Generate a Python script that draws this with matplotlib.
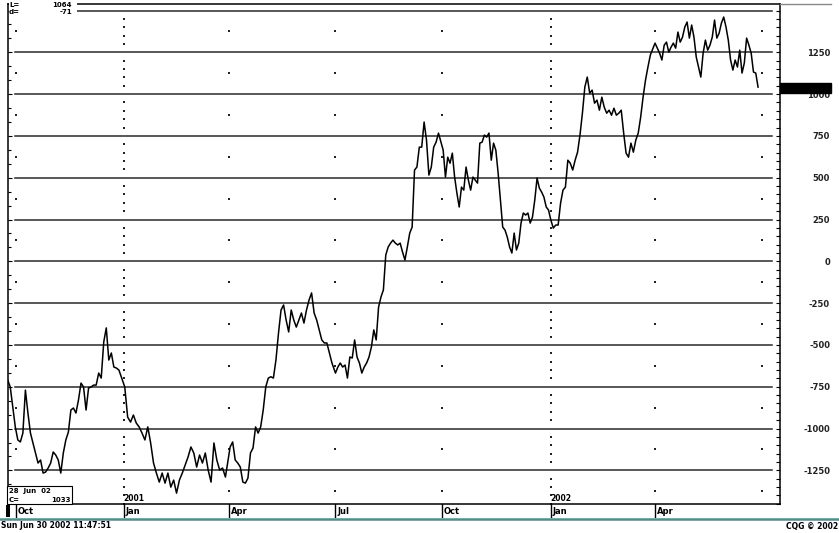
import numpy as np
import pandas as pd
import matplotlib
matplotlib.use('Agg')
import matplotlib.pyplot as plt
import matplotlib.transforms as mtransforms
from matplotlib.patches import Rectangle
from matplotlib.lines import Line2D
from matplotlib.ticker import MultipleLocator, FixedLocator

W, H = 839, 533

# --- spread values, one list per quarter ---
q4_2000 = [-710, -751, -871, -990, -1068, -1080, -1027, -770, -907, -1027,
           -1086, -1146, -1206, -1188, -1266, -1260, -1236, -1206, -1140, -1158,
           -1188, -1266, -1146, -1068, -1021, -889, -877, -907, -829, -728,
           -751, -889, -757, -751, -740, -740, -668, -698, -482, -398,
           -590, -548, -632, -638, -650]
q1_2001 = [-751, -931, -961, -919, -967, -990, -1027, -1068, -990, -1086,
           -1206, -1266, -1320, -1266, -1326, -1266, -1350, -1308, -1386, -1308,
           -1266, -1218, -1170, -1110, -1146, -1230, -1158, -1206, -1146, -1248,
           -1320, -1086, -1188, -1248, -1236, -1290]
q2_2001 = [-1110, -1080, -1188, -1206, -1230, -1320, -1326, -1296, -1146, -1116,
           -990, -1027, -990, -889, -751, -698, -690, -698, -590, -429,
           -291, -261, -351, -422, -291, -351, -393, -351, -309, -369,
           -291, -231, -189, -309, -351, -410, -470, -488, -488, -548, -608]
q3_2001 = [-668, -632, -608, -632, -620, -698, -572, -578, -470, -572,
           -608, -668, -632, -608, -572, -512, -410, -470, -273, -213,
           -171, 38, 86, 109, 127, 109, 98, 109, 56, 8,
           86, 169, 205, 546, 564, 683, 683, 833, 725, 516,
           564, 683, 713, 767]
q4_2001 = [665, 504, 623, 587, 647, 504, 408, 325, 444, 426,
           564, 486, 426, 504, 486, 468, 707, 713, 755, 743,
           767, 605, 707, 665, 528, 367, 205, 187, 145, 86,
           50, 169, 68, 109, 229, 289, 277, 289, 229, 265,
           367, 498, 438, 414, 384, 325, 307]
q1_2002 = [247, 199, 217, 217, 348, 426, 444, 605, 587, 546,
           605, 653, 755, 886, 1042, 1102, 1006, 1024, 946, 964,
           904, 982, 922, 886, 904, 874, 916, 874, 886, 904,
           767, 647, 623, 707, 653, 725, 767, 862, 982, 1084,
           1162, 1234]
q2_2002 = [1305, 1275, 1245, 1204, 1293, 1311, 1251, 1281, 1305, 1275,
           1371, 1311, 1341, 1401, 1431, 1335, 1413, 1341, 1222, 1162,
           1102, 1245, 1323, 1263, 1293, 1341, 1443, 1335, 1365, 1425,
           1461, 1401, 1323, 1204, 1144, 1204, 1162, 1263, 1126, 1186,
           1335, 1293, 1245, 1132, 1126, 1042]

quarters = [("2000-09-25", "2000-12-29", q4_2000),
            ("2001-01-03", "2001-03-30", q1_2001),
            ("2001-04-03", "2001-06-29", q2_2001),
            ("2001-07-02", "2001-09-28", q3_2001),
            ("2001-10-02", "2001-12-31", q4_2001),
            ("2002-01-02", "2002-03-28", q1_2002),
            ("2002-04-01", "2002-06-28", q2_2002)]

quarter_starts = ["2000-10-02", "2001-01-02", "2001-04-02", "2001-07-02",
                  "2001-10-01", "2002-01-02", "2002-04-01"]
quarter_labels = ["Oct", "Jan", "Apr", "Jul", "Oct", "Jan", "Apr"]
year_starts = ["2001-01-02", "2002-01-02"]
year_labels = ["2001", "2002"]
mid_marks = ["2000-10-02", "2001-04-02", "2001-07-02", "2001-10-01",
             "2002-04-01", "2002-07-01"]
right_ticks = [-1250, -1000, -750, -500, -250, 0, 250, 500, 750, 1000, 1250]
last_close = 1033

dates, values = [], []
for start, end, vals in quarters:
    dates.extend(pd.date_range(start, end, periods=len(vals)))
    values.extend(vals)


def fx(px):
    return px / W


def fy(py):
    return 1 - py / H


plt.rcParams['font.family'] = ['DejaVu Sans']
fig = plt.figure(figsize=(W / 100, H / 100), dpi=100)
fig.patch.set_facecolor('white')

ax = fig.add_axes([fx(8), fy(504), fx(780) - fx(8), fy(4) - fy(504)])
xlim = (pd.Timestamp("2000-09-25 06:00"), pd.Timestamp("2002-07-16 18:00"))
ylim = (-1451, 1539)
ax.set_xlim(*xlim)
ax.set_ylim(*ylim)
for s in ax.spines.values():
    s.set_linewidth(1.1)

# horizontal grid
for v in range(-1250, 1501, 250):
    ax.axhline(v, xmin=7 / 772, xmax=764 / 772, color='#2a2a2a', lw=1.1, zorder=1)

# dotted year lines and quarter marks
dot_levels = [v for v in range(-1450, 1501, 50) if v % 250 != 0]
for d in year_starts:
    ax.scatter([pd.Timestamp(d)] * len(dot_levels), dot_levels, s=1.2,
               marker='s', color='#222222', linewidths=0, zorder=2)
mid_levels = list(range(-1375, 1501, 250))
for d in mid_marks:
    ax.scatter([pd.Timestamp(d)] * len(mid_levels), mid_levels, s=1.2,
               marker='s', color='#222222', linewidths=0, zorder=2)

ax.plot(dates, values, color='black', lw=1.1, zorder=3)

ax.set_xticks([])
ax.yaxis.set_major_locator(MultipleLocator(250))
ax.yaxis.set_minor_locator(MultipleLocator(250 / 3))
ax.tick_params(axis='y', which='both', direction='in', left=True, right=False,
               labelleft=False, width=0.8)
ax.tick_params(axis='y', which='major', length=3)
ax.tick_params(axis='y', which='minor', length=2.5)

# right price scale
ax2 = ax.twinx()
ax2.set_ylim(*ylim)
ax2.yaxis.set_major_locator(FixedLocator(right_ticks))
ax2.yaxis.set_minor_locator(MultipleLocator(50))
ax2.set_yticklabels([str(t) for t in right_ticks])
ax2.tick_params(axis='y', which='both', direction='in', width=0.8, pad=36,
                labelsize=6)
ax2.tick_params(axis='y', which='major', length=3)
ax2.tick_params(axis='y', which='minor', length=3)
for lab in ax2.get_yticklabels():
    lab.set_horizontalalignment('right')
    lab.set_fontweight('bold')
    lab.set_color('#222222')
for s in ax2.spines.values():
    s.set_visible(False)

# last price box
trans = mtransforms.blended_transform_factory(ax2.transAxes, ax2.transData)
ax2.add_patch(Rectangle((1.0, last_close - 27), (831 - 780) / 772, 60,
                        transform=trans, facecolor='black', edgecolor='black',
                        clip_on=False, zorder=10))

# year labels inside price panel
for d, lab in zip(year_starts, year_labels):
    ax.text(pd.Timestamp(d), -1447, lab, ha='left', va='bottom', fontsize=5.5,
            fontweight='bold', zorder=4)

# date panel
axd = fig.add_axes([fx(8), fy(518), fx(780) - fx(8), fy(504) - fy(518)])
axd.set_xlim(*xlim)
axd.set_ylim(0, 1)
axd.axis('off')
for d, lab in zip(quarter_starts, quarter_labels):
    t = pd.Timestamp(d)
    axd.axvline(t, color='black', lw=1.0)
    axd.text(t + pd.Timedelta(days=1.5), 0.5, lab, ha='left', va='center',
             fontsize=6, fontweight='bold')
fig.add_artist(Rectangle((fx(6), fy(517)), fx(4), fy(505) - fy(517),
                         transform=fig.transFigure, facecolor='black',
                         edgecolor='none'))

# teal separator and top border over the scale
fig.add_artist(Line2D([0, 1], [fy(518.5), fy(518.5)], color='#4a8f92', lw=1.8))
fig.add_artist(Line2D([fx(780), fx(831)], [fy(4), fy(4)], color='#888888', lw=1.0))

# top-left readout
fig.add_artist(Rectangle((fx(9), fy(15)), fx(68), fy(0) - fy(15),
                         transform=fig.transFigure, facecolor='white',
                         edgecolor='none', zorder=5))
fig.text(fx(9), fy(5), "L=", fontsize=5, fontweight='bold', va='center', zorder=6)
fig.text(fx(72), fy(5), "1064", fontsize=5, fontweight='bold', va='center',
         ha='right', zorder=6)
fig.text(fx(9), fy(11.5), "d=", fontsize=5, fontweight='bold', va='center', zorder=6)
fig.text(fx(72), fy(11.5), "-71", fontsize=5, fontweight='bold', va='center',
         ha='right', zorder=6)

# bottom-left readout box
fig.add_artist(Rectangle((fx(7), fy(504)), fx(65), fy(486) - fy(504),
                         transform=fig.transFigure, facecolor='white',
                         edgecolor='black', lw=0.8, zorder=5))
fig.text(fx(9), fy(490.5), "28  Jun  02", fontsize=5, fontweight='bold',
         va='center', zorder=6)
fig.text(fx(9), fy(499.5), "C=", fontsize=5, fontweight='bold', va='center', zorder=6)
fig.text(fx(71), fy(499.5), "1033", fontsize=5, fontweight='bold', va='center',
         ha='right', zorder=6)

# footer
fig.text(fx(1), fy(526), "Sun Jun 30 2002 11:47:51", fontsize=5.5,
         fontweight='bold', va='center', ha='left')
fig.text(fx(838), fy(526), "CQG \u00a9 2002", fontsize=5.5, fontweight='bold',
         va='center', ha='right')

fig.savefig('out.png', dpi=100, facecolor='white')
